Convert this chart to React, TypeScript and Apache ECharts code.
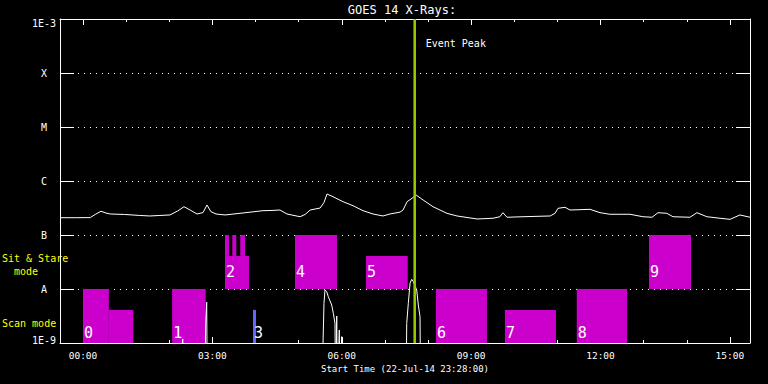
import React, { useEffect, useRef } from "react";
import * as echarts from "echarts";

// ---------- data (time = minutes after 00:00 on 23-Jul-14; start 22-Jul-14 23:28) ----------
const xMin = -32;
const xMax = 928;
const hourTickValues = [0, 60, 120, 180, 240, 300, 360, 420, 480, 540, 600, 660, 720, 780, 840, 900];
const xTickValues = [0, 180, 360, 540, 720, 900];
const xTickLabels = ["00:00", "03:00", "06:00", "09:00", "12:00", "15:00"];
const yTickLabels = ["1E-9", "A", "B", "C", "M", "X", "1E-3"];

const goesTime = [
  -32, -11, 10, 17, 25, 32, 38, 58, 79, 93, 107, 121, 132, 140.5, 149, 158.6, 167, 172.5, 178, 185,
  197.6, 218.4, 250.4, 263, 274, 283.8, 302, 309, 316, 330, 335.3, 339.5, 347.8, 361.7, 375.6, 389.6,
  403.5, 417.4, 427, 441, 445.3, 450.9, 457.8, 463.4, 473.2, 487, 506.3, 520.4, 548.2, 570.4, 580,
  584.3, 589.9, 612, 650, 656.7, 660.9, 670.6, 677.6, 705.4, 719.3, 733, 761, 779, 791.7, 800, 812.4,
  820.8, 844.4, 854.2, 868, 886.4, 900.3, 914, 928,
];
const goesFlux = [
  2.09e-7, 2.09e-7, 2.1e-7, 2.4e-7, 2.75e-7, 2.55e-7, 2.45e-7, 2.4e-7, 2.3e-7, 2.25e-7, 2.3e-7, 2.35e-7,
  2.8e-7, 3.34e-7, 2.9e-7, 2.45e-7, 2.6e-7, 3.59e-7, 2.7e-7, 2.45e-7, 2.35e-7, 2.52e-7, 2.82e-7,
  2.85e-7, 2.9e-7, 2.45e-7, 2.18e-7, 2.4e-7, 2.9e-7, 3.16e-7, 4.0e-7, 5.74e-7, 5.12e-7, 4.14e-7,
  3.49e-7, 2.82e-7, 2.45e-7, 2.25e-7, 2.45e-7, 2.65e-7, 2.9e-7, 4.14e-7, 4.78e-7, 5.5e-7, 4.45e-7,
  3.34e-7, 2.52e-7, 2.25e-7, 1.98e-7, 2.04e-7, 2.18e-7, 2.59e-7, 2.13e-7, 2.18e-7, 2.25e-7, 2.52e-7,
  3.12e-7, 3.26e-7, 2.9e-7, 2.99e-7, 2.59e-7, 2.42e-7, 2.42e-7, 2.18e-7, 2.13e-7, 2.59e-7, 2.52e-7,
  2.18e-7, 2.13e-7, 2.59e-7, 2.18e-7, 2.04e-7, 1.95e-7, 2.35e-7, 2.13e-7,
];

const spikeTime = [
  -32, 137.5, 138.7, 140, 169.5, 170.7, 172.1, 173, 332.1, 335.3, 336.7, 339.1, 341.3, 346, 348.3,
  350.6, 351.5, 353, 354, 356.6, 357.5, 359.9, 361, 449.4, 450.4, 452.6, 455, 457.3, 459.6, 464.3,
  466.5, 468.9, 469.8, 928,
];
const spikeFlux = [
  1e-10, 1e-10, 1.19e-9, 1e-10, 1e-10, 2.3e-9, 5.7e-9, 1e-10, 1e-10, 5.43e-9, 9.58e-9, 8.9e-9, 7.2e-9,
  5.05e-9, 3.55e-9, 2.3e-9, 1e-10, 3.16e-9, 1e-10, 1.74e-9, 1e-10, 1.31e-9, 1e-10, 1e-10, 2.3e-9,
  5.43e-9, 1.28e-8, 1.51e-8, 1.37e-8, 9.58e-9, 5.05e-9, 3.07e-9, 1e-10, 1e-10,
];

const obsStart = [0, 36, 124, 197.6, 197.6, 207.7, 218.8, 236.5, 295, 393.7, 491, 587, 687, 787.5];
const obsEnd = [36, 70, 170.7, 231, 203.1, 213.3, 225.4, 240.7, 353.4, 451.8, 562, 658, 757, 846];
const obsLow = [1e-9, 1e-9, 1e-9, 1e-8, 4.1e-8, 4.1e-8, 4.1e-8, 1e-9, 1e-8, 1e-8, 1e-9, 1e-9, 1e-9, 1e-8];
const obsHigh = [1e-8, 4.1e-9, 1e-8, 4.1e-8, 1e-7, 1e-7, 1e-7, 4.1e-9, 1e-7, 4.1e-8, 1e-8, 4.1e-9, 1e-8, 1e-7];
const obsLabel = ["0", "", "1", "2", "", "", "", "3", "4", "5", "6", "7", "8", "9"];
const obsKind = ["m", "m", "m", "m", "m", "m", "m", "b", "m", "m", "m", "m", "m", "m"];

const eventPeakTime = 461.5;

// ---------- styles ----------
const MONO = "DejaVu Sans Mono";
const MAGENTA = "#cc00cc";
const BLUE = "#6464ff";
const PEAK = "#99cc00";
const SCAN_LABEL_LEVEL = 1.5e-9;
const SS_LABEL_LEVEL = 2.05e-8;

export default function App() {
  const ref = useRef<HTMLDivElement>(null);

  useEffect(() => {
    if (!ref.current) return;
    const chart = echarts.init(ref.current, null, { renderer: "svg" });

    const yLabelFmt = (v: number) => {
      const i = Math.round(Math.log10(v) + 9);
      const t = yTickLabels[i] ?? "";
      if (i === 6) return `{top|${t}}`;
      if (i === 0) return `{bot|${t}}`;
      return t;
    };
    const xLabelFmt = (v: number) => {
      const i = xTickValues.indexOf(Math.round(v));
      return i >= 0 ? xTickLabels[i] : "";
    };

    const xBase = (position: "top" | "bottom") => ({
      type: "value" as const,
      min: xMin,
      max: xMax,
      position,
      splitLine: { show: false },
    });

    const option: any = {
      animation: false,
      backgroundColor: "#000",
      textStyle: { fontFamily: MONO },
      grid: { left: 60, right: 18, top: 19, bottom: 41, containLabel: false, outerBoundsMode: "none" },
      graphic: [
        {
          type: "text",
          x: 402,
          y: 10,
          style: { text: "GOES 14 X-Rays:", fill: "#fff", font: `12px "${MONO}"`, textAlign: "center", textVerticalAlign: "middle" },
        },
        {
          type: "text",
          x: 2,
          y: 252,
          style: { text: "Sit & Stare\n  mode", fill: "#ffff00", font: `10px "${MONO}"`, lineHeight: 13, textAlign: "left", textVerticalAlign: "top" },
        },
        {
          type: "text",
          x: 2,
          y: 323,
          style: { text: "Scan mode", fill: "#ffff00", font: `10px "${MONO}"`, textAlign: "left", textVerticalAlign: "middle" },
        },
      ],
      xAxis: [
        {
          ...xBase("bottom"),
          axisLine: { show: true, onZero: false, lineStyle: { color: "#fff", width: 1 } },
          axisTick: { show: true, inside: true, length: 3, customValues: hourTickValues, lineStyle: { color: "#fff" } },
          axisLabel: { show: false },
        },
        {
          ...xBase("bottom"),
          axisLine: { show: false, onZero: false },
          axisTick: { show: true, inside: true, length: 6, customValues: xTickValues, lineStyle: { color: "#fff" } },
          axisLabel: {
            show: true,
            customValues: xTickValues,
            formatter: xLabelFmt,
            color: "#fff",
            fontFamily: MONO,
            fontSize: 9.5,
            margin: 7,
          },
          name: "Start Time (22-Jul-14 23:28:00)",
          nameLocation: "middle",
          nameGap: 20,
          nameTextStyle: { color: "#fff", fontFamily: MONO, fontSize: 9 },
        },
        {
          ...xBase("top"),
          axisLine: { show: true, onZero: false, lineStyle: { color: "#fff", width: 1 } },
          axisTick: { show: true, inside: true, length: 3, customValues: hourTickValues, lineStyle: { color: "#fff" } },
          axisLabel: { show: false },
        },
        {
          ...xBase("top"),
          axisLine: { show: false, onZero: false },
          axisTick: { show: true, inside: true, length: 6, customValues: xTickValues, lineStyle: { color: "#fff" } },
          axisLabel: { show: false },
        },
      ],
      yAxis: [
        {
          type: "log",
          logBase: 10,
          min: 1e-9,
          max: 1e-3,
          splitNumber: 6,
          position: "left",
          axisLine: { show: true, onZero: false, lineStyle: { color: "#fff", width: 1 } },
          axisTick: { show: true, inside: true, length: 14, lineStyle: { color: "#fff" } },
          axisLabel: {
            color: "#fff",
            fontFamily: MONO,
            fontSize: 10,
            margin: 16,
            align: "center",
            formatter: yLabelFmt,
            rich: {
              top: { color: "#fff", fontFamily: MONO, fontSize: 10, padding: [8, 0, 0, 0] },
              bot: { color: "#fff", fontFamily: MONO, fontSize: 10, padding: [0, 0, 6, 0] },
            },
          },
          splitLine: { show: true, lineStyle: { color: "#fff", width: 1, type: [1, 5] } },
        },
        {
          type: "log",
          logBase: 10,
          min: 1e-9,
          max: 1e-3,
          splitNumber: 6,
          position: "right",
          axisLine: { show: true, onZero: false, lineStyle: { color: "#fff", width: 1 } },
          axisTick: { show: true, inside: true, length: 14, lineStyle: { color: "#fff" } },
          axisLabel: { show: false },
          splitLine: { show: false },
        },
      ],
      series: [
        {
          type: "custom",
          xAxisIndex: 0,
          yAxisIndex: 0,
          z: 2,
          encode: { x: [0, 1], y: [2, 3] },
          data: obsStart.map((s, i) => [s, obsEnd[i], obsLow[i], obsHigh[i]]),
          renderItem: (params: any, api: any) => {
            const i = params.dataIndex;
            const p0 = api.coord([api.value(0), api.value(3)]);
            const p1 = api.coord([api.value(1), api.value(2)]);
            const children: any[] = [
              {
                type: "rect",
                shape: { x: p0[0], y: p0[1], width: p1[0] - p0[0], height: p1[1] - p0[1] },
                style: { fill: obsKind[i] === "b" ? BLUE : MAGENTA },
              },
            ];
            if (obsLabel[i]) {
              const lv = obsLow[i] < 5e-9 ? SCAN_LABEL_LEVEL : SS_LABEL_LEVEL;
              const lp = api.coord([api.value(0), lv]);
              children.push({
                type: "text",
                x: lp[0] + 1,
                y: lp[1],
                z2: 10,
                style: {
                  text: obsLabel[i],
                  fill: "#fff",
                  font: `15px "${MONO}"`,
                  textAlign: "left",
                  textVerticalAlign: "middle",
                },
              });
            }
            return { type: "group", children };
          },
        },
        {
          type: "line",
          xAxisIndex: 0,
          yAxisIndex: 0,
          z: 3,
          symbol: "none",
          showSymbol: false,
          clip: true,
          data: goesTime.map((t, i) => [t, goesFlux[i]]),
          lineStyle: { color: "#fff", width: 1 },
        },
        {
          type: "line",
          xAxisIndex: 0,
          yAxisIndex: 0,
          z: 3,
          symbol: "none",
          showSymbol: false,
          clip: true,
          data: spikeTime.map((t, i) => [t, spikeFlux[i]]),
          lineStyle: { color: "#fff", width: 1 },
        },
        {
          type: "custom",
          xAxisIndex: 0,
          yAxisIndex: 0,
          z: 5,
          encode: { x: 0, y: 1 },
          data: [[eventPeakTime, 1e-3]],
          renderItem: (params: any, api: any) => {
            const top = api.coord([api.value(0), 1e-3]);
            const bot = api.coord([api.value(0), 1e-9]);
            return {
              type: "group",
              children: [
                {
                  type: "line",
                  shape: { x1: top[0], y1: top[1], x2: bot[0], y2: bot[1] },
                  style: { stroke: PEAK, lineWidth: 2.5 },
                },
                {
                  type: "text",
                  x: top[0] + 11,
                  y: top[1] + 24,
                  style: { text: "Event Peak", fill: "#fff", font: `10px "${MONO}"`, textAlign: "left", textVerticalAlign: "middle" },
                },
              ],
            };
          },
        },
      ],
    };

    chart.setOption(option);
    return () => chart.dispose();
  }, []);

  return (
    <div
      ref={ref}
      style={{ position: "fixed", left: 0, top: 0, width: 768, height: 384, background: "#000" }}
    />
  );
}
